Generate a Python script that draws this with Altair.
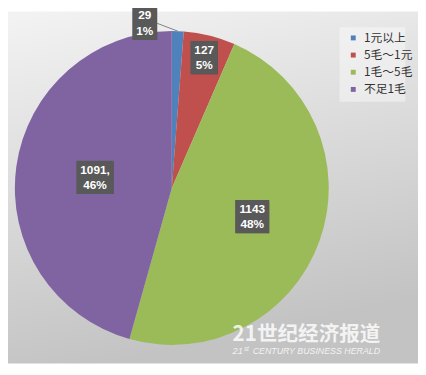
import altair as alt
import pandas as pd

# ---- data ----
categories = ["1元以上", "5毛～1元", "1毛～5毛", "不足1毛"]
values = [29, 127, 1143, 1091]
label_suffix = ["", "", "", ","]
colors = ["#4F81BD", "#C0504D", "#9BBB59", "#8064A2"]
brand_cn = "21世纪经济报道"
brand_en = ["21", "st", "CENTURY BUSINESS HERALD"]

# ---- layout ----
W, H = 418, 359
CX, CY, R = 167, 180, 160
LABEL_R = [168, 137, 87, 79]
LABEL_DX = [-34, 0, 0, 0]

df = pd.DataFrame({"cat": categories, "v": values, "suf": label_suffix,
                   "idx": list(range(len(values)))})

one = alt.Data(values=[{}])

bg = alt.Chart(one).mark_rect(
    fill=alt.Gradient(gradient="linear",
                      stops=[alt.GradientStop(offset=0, color="#f3f3f3"),
                             alt.GradientStop(offset=1, color="#c3c3c3")],
                      x1=0, y1=0, x2=0.25, y2=1)
).encode(x=alt.value(0), x2=alt.value(W), y=alt.value(0), y2=alt.value(H))

legend_bg = alt.Chart(one).mark_rect(fill="white", opacity=0.4).encode(
    x=alt.value(338), x2=alt.value(405), y=alt.value(16), y2=alt.value(92))

base = alt.Chart(df).transform_joinaggregate(
    total="sum(v)"
).transform_window(
    cum="sum(v)", sort=[alt.SortField("idx")], frame=[None, 0]
).transform_calculate(
    mid="(datum.cum - datum.v/2)/datum.total*2*PI",
    lr=f"{LABEL_R}[datum.idx]",
    lx=f"{CX} + datum.lr*sin(datum.mid) + {LABEL_DX}[datum.idx]",
    ly=f"{CY} - datum.lr*cos(datum.mid)",
    pct="format(datum.v/datum.total, '.0%')",
    line1="datum.v + datum.suf",
    txt="datum.line1 + '\\n' + datum.pct",
    bw="max(length(datum.v + '')*6.7 + (datum.suf ? 3.3 : 0), (length(datum.pct)-1)*6.7 + 10.7) + 8",
    bx1="datum.lx - datum.bw/2",
    bx2="datum.lx + datum.bw/2",
    by1="datum.ly - 17",
    by2="datum.ly + 17",
    ex=f"{CX} + {R}*sin(datum.mid)",
    ey=f"{CY} - {R}*cos(datum.mid)",
)

pie = base.mark_arc(radius=R, stroke=None).encode(
    theta=alt.Theta("v:Q", stack=True),
    order=alt.Order("idx:Q"),
    color=alt.Color("cat:N", sort=categories,
                    scale=alt.Scale(domain=categories, range=colors),
                    legend=alt.Legend(orient="none", legendX=346, legendY=21,
                                      title=None, symbolType="square",
                                      symbolSize=25, symbolStrokeWidth=0,
                                      labelFont="Noto Sans CJK SC",
                                      labelFontSize=12, labelColor="#333333",
                                      rowPadding=5.5, labelOffset=5, padding=0)),
    x=alt.value(CX), y=alt.value(CY),
)

leader = base.transform_filter("datum.idx == 0").mark_rule(
    color="#808080", strokeWidth=1
).encode(
    x=alt.X("bx2:Q", scale=None), y=alt.Y("ly:Q", scale=None),
    x2="ex:Q", y2="ey:Q")

shadow = base.mark_rect(fill="black", opacity=0.3).encode(
    x=alt.X("bx1:Q", scale=None), x2="bx2:Q",
    y=alt.Y("by1:Q", scale=None), y2="by2:Q",
    xOffset=alt.value(2), yOffset=alt.value(2))

box = base.mark_rect(fill="#595959").encode(
    x=alt.X("bx1:Q", scale=None), x2="bx2:Q",
    y=alt.Y("by1:Q", scale=None), y2="by2:Q")

labels = base.mark_text(
    lineBreak="\n", lineHeight=16, fontSize=12, fontWeight="bold",
    font="Liberation Sans", color="white", baseline="middle", align="center",
    dy=-8
).encode(x=alt.X("lx:Q", scale=None), y=alt.Y("ly:Q", scale=None),
         text="txt:N")

wm1 = alt.Chart(one).mark_text(
    text=brand_cn, font="Noto Sans CJK SC", fontWeight="bold", fontSize=21,
    color="white", opacity=0.8, align="left", baseline="alphabetic"
).encode(x=alt.value(229), y=alt.value(335.5))

wm_style = dict(font="Liberation Sans", fontStyle="italic", color="white",
                opacity=0.8, align="left", baseline="alphabetic")
wm2a = alt.Chart(one).mark_text(text=brand_en[0], fontSize=9.5, **wm_style).encode(
    x=alt.value(229), y=alt.value(349.5))
wm2b = alt.Chart(one).mark_text(text=brand_en[1], fontSize=6.5, **wm_style).encode(
    x=alt.value(240.5), y=alt.value(346.5))
wm2c = alt.Chart(one).mark_text(text=brand_en[2], fontSize=9, **wm_style).encode(
    x=alt.value(249.5), y=alt.value(349.5))

chart = alt.layer(bg, legend_bg, pie, leader, shadow, box, labels,
                  wm1, wm2a, wm2b, wm2c).properties(
    width=W, height=H, padding=0, autosize=alt.AutoSizeParams(type="none")
).configure_view(stroke=None)

chart.save("out.html", embed_options={"renderer": "svg", "actions": False})
